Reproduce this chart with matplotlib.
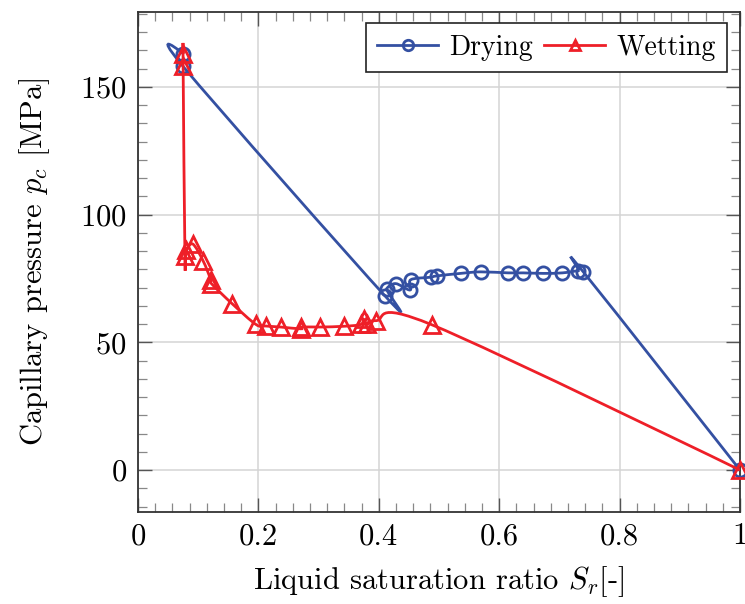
import numpy as np
import matplotlib
matplotlib.use("Agg")
import matplotlib.pyplot as plt
from matplotlib.path import Path
from matplotlib.patches import PathPatch
from matplotlib.lines import Line2D
from matplotlib.ticker import MultipleLocator

plt.rcParams['font.family'] = 'serif'
plt.rcParams['font.serif'] = ['cmr10']
plt.rcParams['mathtext.fontset'] = 'cm'
plt.rcParams['axes.formatter.use_mathtext'] = True

# drying branch (saturation ratio, capillary pressure in MPa)
dry_sr = [0.075, 0.075, 0.411, 0.413, 0.428, 0.452, 0.453, 0.486, 0.496,
          0.536, 0.569, 0.615, 0.640, 0.673, 0.705, 0.731, 0.740, 1.0]
dry_pc = [163, 158, 68, 71, 73, 70.5, 74.5, 75.5, 76,
          77, 77.6, 77.2, 77.2, 77, 77.2, 78, 77.5, 0]

# wetting branch
wet_sr = [0.075, 0.075, 0.078, 0.080, 0.091, 0.108, 0.121, 0.122, 0.157,
          0.196, 0.212, 0.237, 0.270, 0.271, 0.303, 0.342, 0.370, 0.375,
          0.381, 0.395, 0.489, 1.0]
wet_pc = [163, 158, 84, 86, 88.5, 82, 74.5, 73, 65,
          57, 56.4, 56, 55.3, 56, 56, 56.3, 57, 59,
          57, 58.5, 56.8, 0]

xticks = [0, 0.2, 0.4, 0.6, 0.8, 1]
xticklabels = ['0', '0.2', '0.4', '0.6', '0.8', '1']
yticks = [0, 50, 100, 150]

blue = '#3450a2'
red = '#ee1f28'


def smooth_path(x, y, k=0.17):
    # cubic bezier through all points, tangents from neighbouring points
    p = np.column_stack([x, y]).astype(float)
    n = len(p)
    verts = [p[0]]
    codes = [Path.MOVETO]
    for i in range(n - 1):
        c1 = p[i] if i == 0 else p[i] + k * (p[i + 1] - p[i - 1])
        c2 = p[i + 1] if i + 1 == n - 1 else p[i + 1] - k * (p[i + 2] - p[i])
        verts += [c1, c2, p[i + 1]]
        codes += [Path.CURVE4] * 3
    return Path(verts, codes)


fig = plt.figure(figsize=(7.45, 6.04), dpi=100)
ax = fig.add_axes([0.1852, 0.1528, 0.8081, 0.8272])

lw = 2.0
ax.add_patch(PathPatch(smooth_path(dry_sr, dry_pc), facecolor='none',
                       edgecolor=blue, lw=lw, zorder=3))
ax.plot(dry_sr, dry_pc, ls='none', marker='o', ms=9.5, mfc='none',
        mec=blue, mew=2.0, zorder=4, clip_on=False)
ax.add_patch(PathPatch(smooth_path(wet_sr, wet_pc), facecolor='none',
                       edgecolor=red, lw=lw, zorder=5))
ax.plot(wet_sr, wet_pc, ls='none', marker='^', ms=11, mfc='none',
        mec=red, mew=2.0, zorder=6, clip_on=False)

ax.set_xlim(0, 1)
ax.set_ylim(-16.3, 179.3)
ax.set_xticks(xticks)
ax.set_xticklabels(xticklabels)
ax.set_yticks(yticks)
ax.xaxis.set_minor_locator(MultipleLocator(0.2 / 7))
ax.yaxis.set_minor_locator(MultipleLocator(50 / 7))
ax.tick_params(which='both', direction='in', top=True, right=True,
               labelsize=22, pad=8)
ax.tick_params(which='major', length=10, width=1.0, color='#555555')
ax.tick_params(which='minor', length=6.5, width=0.9, color='#888888')
ax.grid(True, which='major', color='#d4d4d4', lw=1.1)
ax.set_axisbelow(True)
for s in ax.spines.values():
    s.set_color('#333333')
    s.set_linewidth(1.3)

ax.set_xlabel('Liquid saturation ratio $S_r$[-]', fontsize=22, labelpad=10)
ax.set_ylabel('Capillary pressure $p_c$ [MPa]', fontsize=22, labelpad=20)

handles = [
    Line2D([], [], color=blue, lw=lw, marker='o', ms=7.5, mfc='none', mew=2.0),
    Line2D([], [], color=red, lw=lw, marker='^', ms=7.5, mfc='none', mew=2.0),
]
leg = ax.legend(handles, ['Drying', 'Wetting'], loc='upper right', ncol=2,
                fontsize=20, frameon=True, fancybox=False, handlelength=2.2,
                columnspacing=0.4, handletextpad=0.4, borderpad=0.4,
                borderaxespad=0, bbox_to_anchor=(0.9785, 0.978))
leg.get_frame().set_edgecolor('#222222')
leg.get_frame().set_linewidth(1.2)
leg.get_frame().set_alpha(1)

fig.savefig('out.png', dpi=100)
